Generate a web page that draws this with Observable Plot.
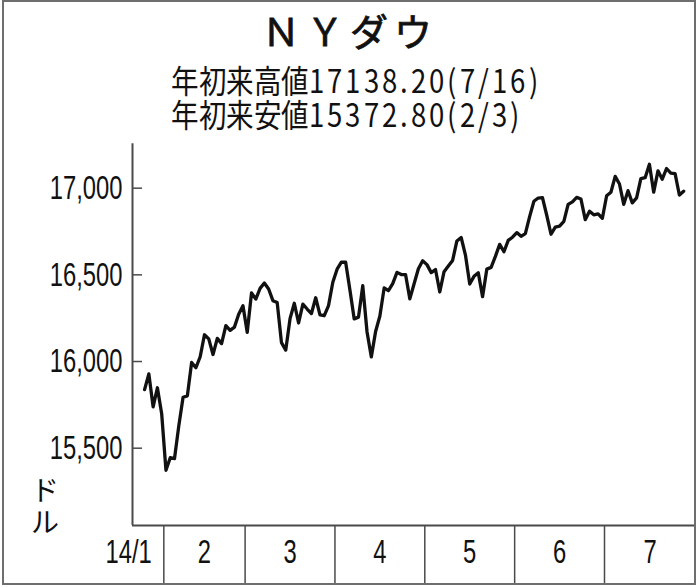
<!DOCTYPE html>
<html>
<head>
<meta charset="utf-8">
<script src="https://cdn.jsdelivr.net/npm/d3@7"></script>
<script src="https://cdn.jsdelivr.net/npm/@observablehq/plot@0.6"></script>
<style>
@font-face {
  font-family: "JPTight";
  src: local("Noto Sans CJK JP Regular"), local("NotoSansCJKjp-Regular"), local("Noto Sans CJK JP");
  font-weight: 400;
  ascent-override: 88%;
  descent-override: 12%;
  line-gap-override: 0%;
}
html, body { margin: 0; padding: 0; background: #fff; }
#page { position: relative; width: 698px; height: 587px; overflow: hidden; background: #fff; }
#chart { position: absolute; left: 0; top: 130px; }
#frame { position: absolute; left: 2px; top: 0; width: 694px; height: 585px; border: 2px solid #6e6e6e; box-sizing: border-box; pointer-events: none; }
.jp { font-family: "JPTight", "Noto Sans CJK JP", "Noto Sans", sans-serif; color: #111; white-space: nowrap; }
#title { position: absolute; left: 262px; top: 13px; font-size: 38px; line-height: 38px; letter-spacing: 6px; -webkit-text-stroke: 0.8px #111; }
#sub { position: absolute; left: 171px; top: 64px; font-size: 32px; line-height: 34px; transform: scaleX(0.86); transform-origin: 0 0; }
#sub .n { letter-spacing: 3.3px; }
#unit { position: absolute; left: 31px; top: 473.5px; width: 28px; font-size: 28px; line-height: 32px; text-align: center; }
</style>
</head>
<body>
<div id="page">
  <div id="chart"></div>
  <div id="title" class="jp">ＮＹダウ</div>
  <div id="sub" class="jp">
    <div>年初来高値<span class="n">17138.20(7/16)</span></div>
    <div>年初来安値<span class="n">15372.80(2/3)</span></div>
  </div>
  <div id="unit" class="jp">ド<br>ル</div>
  <div id="frame"></div>
</div>
<script>
// Month labels and y-axis ticks
const monthLabels = ["14/1", "2", "3", "4", "5", "6", "7"];
const yTicks = [15500, 16000, 16500, 17000];

// Daily closing values (USD), one array per month
const jan = [15837.88, 15928.56, 15738.79, 15848.61, 15698.85];
const feb = [15372.80, 15445.24, 15440.23, 15628.53, 15794.08, 15801.79, 15994.77, 15963.94, 16027.59, 16154.39,
             16130.40, 16040.56, 16133.23, 16103.30, 16207.14, 16179.66, 16198.41, 16272.65, 16321.71];
const mar = [16168.03, 16395.88, 16360.18, 16421.89, 16452.72, 16418.68, 16351.25, 16340.08, 16108.89, 16065.67,
             16247.22, 16336.19, 16222.17, 16331.05, 16302.77, 16276.69, 16367.88, 16268.99, 16264.23, 16323.06, 16457.66];
const apr = [16532.61, 16573.00, 16572.55, 16412.71, 16245.87, 16256.14, 16437.18, 16170.22, 16026.75, 16173.24,
             16262.56, 16424.85, 16408.54, 16449.25, 16514.37, 16501.65, 16501.65, 16361.46, 16448.74, 16535.37, 16580.84];
const may = [16558.87, 16512.89, 16530.55, 16401.02, 16518.54, 16550.97, 16583.34, 16695.47, 16715.44, 16613.97,
             16446.81, 16491.31, 16511.86, 16374.31, 16533.06, 16543.08, 16606.27, 16675.50, 16633.18, 16698.74, 16717.17];
const jun = [16743.63, 16722.34, 16737.53, 16836.11, 16924.28, 16943.10, 16945.92, 16843.88, 16734.19, 16775.74,
             16781.01, 16808.49, 16906.62, 16921.46, 16947.08, 16937.26, 16818.13, 16867.51, 16846.13, 16851.84, 16826.60];
const jul = [16956.07, 16976.24, 17068.26, 17024.21, 16906.62, 16985.61, 16915.07, 16943.81, 17055.42, 17060.68,
             17138.20, 16976.81, 17100.18, 17051.73, 17113.54, 17086.63, 17083.80, 16960.57, 16982.59];

const monthValues = [jan, feb, mar, apr, may, jun, jul];
const data = monthValues.flat().map((v, i) => ({i, v}));
const starts = [];
{ let c = 0; for (const m of monthValues) { starts.push(c); c += m.length; } }
const separators = starts.slice(1).map(s => s - 0.5);

const xDomain = [-2.82, 128.77];
const yDomain = [15054, 17256];
const bounds = [xDomain[0], ...separators, xDomain[1]];
const janLabel = [{t: monthLabels[0], x: separators[0]}];
const otherLabels = monthLabels.slice(1).map((t, k) => ({t, x: (bounds[k + 1] + bounds[k + 2]) / 2}));

const axisColor = "#4a4a4a";
const ink = "#111";
const numFont = "'Liberation Sans', Arial, sans-serif";

const svg = Plot.plot({
  width: 698,
  height: 457,
  marginTop: 13.3,
  marginBottom: 62,
  marginLeft: 132,
  marginRight: 3,
  style: {background: "transparent", overflow: "visible"},
  x: {domain: xDomain},
  y: {domain: yDomain},
  marks: [
    Plot.axisX({ticks: separators, tickSize: 58, tickFormat: () => "", anchor: "bottom", stroke: axisColor, strokeWidth: 1.5, label: null}),
    Plot.axisY({ticks: yTicks, tickSize: -10, tickFormat: () => "", anchor: "left", stroke: axisColor, strokeWidth: 1.5, label: null}),
    Plot.ruleX([xDomain[0]], {stroke: axisColor, strokeWidth: 2}),
    Plot.ruleY([yDomain[0]], {stroke: axisColor, strokeWidth: 2}),
    Plot.text(yTicks, {x: xDomain[0], y: d => d, text: d => d3.format(",")(d), textAnchor: "end", dx: -10,
      fontSize: 34, fontFamily: numFont, fill: ink}),
    Plot.text(janLabel, {x: "x", y: yDomain[0], text: "t", textAnchor: "end", dx: -12, dy: 27,
      fontSize: 34, fontFamily: numFont, fill: ink}),
    Plot.text(otherLabels, {x: "x", y: yDomain[0], text: "t", textAnchor: "middle", dy: 27,
      fontSize: 34, fontFamily: numFont, fill: ink}),
    Plot.line(data, {x: "i", y: "v", stroke: ink, strokeWidth: 3.3, strokeLinejoin: "round", strokeLinecap: "round"})
  ]
});

// condensed look for the numeric labels
svg.querySelectorAll("text").forEach(t => {
  if (!t.textContent.trim()) return;
  const tr = t.getAttribute("transform");
  if (tr) t.setAttribute("transform", tr + " scale(0.7,1)");
  else {
    const x = +(t.getAttribute("x") || 0);
    t.setAttribute("transform", `translate(${x},0) scale(0.7,1) translate(${-x},0)`);
  }
});

document.getElementById("chart").appendChild(svg);
</script>
</body>
</html>
